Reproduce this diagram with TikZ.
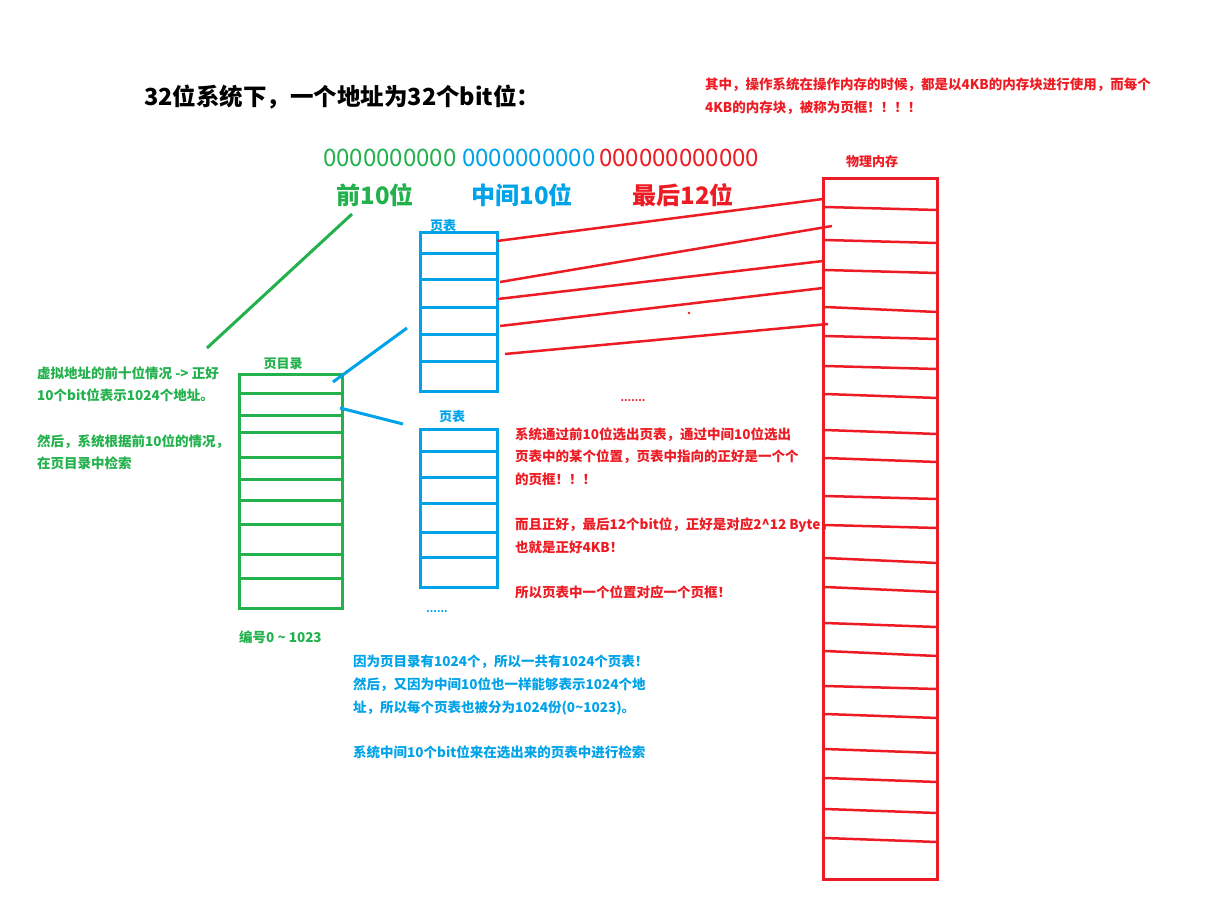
\documentclass[tikz,border=0pt]{standalone}
\usepackage{fontspec}
\setmainfont{Noto Sans CJK SC}
\usepackage{tikz}
\definecolor{paintgreen}{RGB}{34,177,76}
\definecolor{paintblue}{RGB}{0,162,232}
\definecolor{paintred}{RGB}{237,28,36}
\tikzset{
  note/.style={inner sep=0pt,anchor=north west,align=left,font=\fontsize{13.5}{22.7}\selectfont\bfseries},
  boxlabel/.style={inner sep=0pt,font=\fontsize{13}{15}\selectfont\bfseries},
  bigbits/.style={inner sep=0pt,anchor=west,font=\fontsize{24}{28}\selectfont},
  partlabel/.style={inner sep=0pt,font=\fontsize{24}{28}\selectfont\bfseries}
}

\begin{document}
\begin{tikzpicture}[x=1pt,y=-1pt]
\useasboundingbox (0,0) rectangle (1216,912);
% texts at the top:
\node[inner sep=0pt,anchor=west,font=\fontsize{23.5}{27}\selectfont\bfseries] (title) at (144,97) {32位系统下，一个地址为32个bit位：};
\node[note,text=paintred] (framenote) at (705,78) {其中，操作系统在操作内存的时候，都是以4KB的内存块进行使用，而每个\\4KB的内存块，被称为页框！！！！};
\node[bigbits,text=paintgreen] (bitsfirst) at (323,158) {0000000000};
\node[bigbits,text=paintblue] (bitsmid) at (462,158) {0000000000};
\node[bigbits,text=paintred] (bitslast) at (599,158) {000000000000};
\node[partlabel,text=paintgreen] (firstten) at (375,195) {前10位};
\node[partlabel,text=paintblue] (midten) at (522,195) {中间10位};
\node[partlabel,text=paintred] (lasttwelve) at (683,195) {最后12位};
% objects at depth 100 (page directory):
\node[boxlabel,text=paintgreen] (dirlabel) at (283,364) {页目录};
\path[draw=paintgreen,line width=3] (239,374) rectangle (342,608);
\foreach \y in {393,415,432,457,479,500,524,554,578}
  \path[draw=paintgreen,line width=3] (239,\y) -- (342,\y);
\node[inner sep=0pt,anchor=west,text=paintgreen,font=\fontsize{13.5}{16}\selectfont\bfseries] (dirnumber) at (239,637) {编号0 \textasciitilde{} 1023};
\path[draw=paintgreen,line width=3] (352,214) -- (207,348);
% objects at depth 100 (page tables):
\node[boxlabel,text=paintblue] (tablelabela) at (443,226) {页表};
\path[draw=paintblue,line width=3] (420,233) rectangle (497,391);
\foreach \y in {254,280,307,334,361}
  \path[draw=paintblue,line width=3] (420,\y) -- (497,\y);
\node[boxlabel,text=paintblue] (tablelabelb) at (452,417) {页表};
\path[draw=paintblue,line width=3] (420,429) rectangle (497,587);
\foreach \y in {451,477,503,532,557}
  \path[draw=paintblue,line width=3] (420,\y) -- (497,\y);
\node[inner sep=0pt,text=paintblue,font=\fontsize{10}{11}\selectfont\bfseries] (tabledots) at (437,612) {......};
\path[draw=paintblue,line width=3] (333,382) -- (407,328);
\path[draw=paintblue,line width=3] (340,408) -- (403,424);
% objects at depth 100 (physical memory):
\node[boxlabel,text=paintred] (memlabel) at (872,162) {物理内存};
\path[draw=paintred,line width=3] (823,179) rectangle (937,879);
\foreach \l/\r in {207/210,240/243,270/273,307/312,336/339,366/369,394/398,430/434,458/462,496/499,525/528,558/563,587/592,623/627,651/656,686/689,714/718,749/753,778/782,809/813,838/842}
  \path[draw=paintred,line width=2.5] (825,\l) -- (937,\r);
% objects at depth 50 (page table to page frame):
\path[draw=paintred,line width=2.5] (497,241) -- (823,199);
\path[draw=paintred,line width=2.5] (500,282) -- (832,226);
\path[draw=paintred,line width=2.5] (498,299) -- (823,261);
\path[draw=paintred,line width=2.5] (500,326) -- (823,288);
\path[draw=paintred,line width=2.5] (505,354) -- (828,324);
\path[fill=paintred] (689,313) circle (1.3);
\node[inner sep=0pt,text=paintred,font=\fontsize{10}{11}\selectfont\bfseries] (memdots) at (633,401) {.......};
% notes:
\node[note,text=paintgreen] (dirnote) at (37,366) {虚拟地址的前十位情况 -> 正好\\10个bit位表示1024个地址。\\[22.7pt]然后，系统根据前10位的情况，\\在页目录中检索};
\node[note,text=paintred] (tablenote) at (515,427) {系统通过前10位选出页表，通过中间10位选出\\页表中的某个位置，页表中指向的正好是一个个\\的页框！！！\\[22.7pt]而且正好，最后12个bit位，正好是对应2\textasciicircum{}12 Byte，\\也就是正好4KB！\\[22.7pt]所以页表中一个位置对应一个页框！};
\node[note,text=paintblue] (countnote) at (353,655) {因为页目录有1024个，所以一共有1024个页表！\\然后，又因为中间10位也一样能够表示1024个地\\址，所以每个页表也被分为1024份(0\textasciitilde{}1023)。\\[22.7pt]系统中间10个bit位来在选出来的页表中进行检索};
\end{tikzpicture}
\end{document}
